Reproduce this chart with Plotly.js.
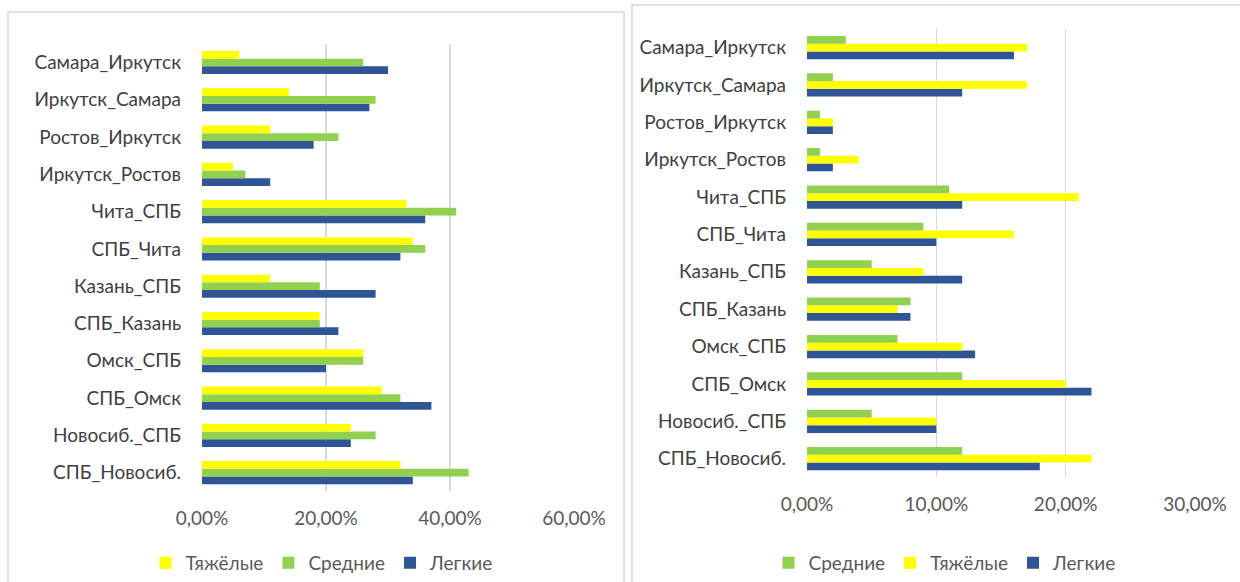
<!DOCTYPE html>
<html>
<head>
<meta charset="utf-8">
<script src="https://cdn.plot.ly/plotly-3.0.1.min.js"></script>
<style>
  html, body { margin: 0; padding: 0; background: #fff; }
  #chart { width: 1240px; height: 582px; }
</style>
</head>
<body>
<div id="chart"></div>
<script>
// categories, listed bottom to top (plotly draws the first one at the bottom)
const routes = [
  'СПБ_Новосиб.', 'Новосиб._СПБ', 'СПБ_Омск', 'Омск_СПБ', 'СПБ_Казань', 'Казань_СПБ',
  'СПБ_Чита', 'Чита_СПБ', 'Иркутск_Ростов', 'Ростов_Иркутск', 'Иркутск_Самара', 'Самара_Иркутск'
]

// left chart, shares
const leftLight  = [0.34, 0.24, 0.37, 0.20, 0.22, 0.28, 0.32, 0.36, 0.11, 0.18, 0.27, 0.30]
const leftMedium = [0.43, 0.28, 0.32, 0.26, 0.19, 0.19, 0.36, 0.41, 0.07, 0.22, 0.28, 0.26]
const leftHeavy  = [0.32, 0.24, 0.29, 0.26, 0.19, 0.11, 0.34, 0.33, 0.05, 0.11, 0.14, 0.06]

// right chart, shares
const rightLight  = [0.18, 0.10, 0.22, 0.13, 0.08, 0.12, 0.10, 0.12, 0.02, 0.02, 0.12, 0.16]
const rightHeavy  = [0.22, 0.10, 0.20, 0.12, 0.07, 0.09, 0.16, 0.21, 0.04, 0.02, 0.17, 0.17]
const rightMedium = [0.12, 0.05, 0.12, 0.07, 0.08, 0.05, 0.09, 0.11, 0.01, 0.01, 0.02, 0.03]

const leftTicks = [0, 0.2, 0.4, 0.6]
const rightTicks = [0, 0.1, 0.2, 0.3]

const BLUE = '#2F5597'
const GREEN = '#92D050'
const YELLOW = '#FFFF00'
const FONT = 'Lato, "Open Sans", sans-serif'

const W = 1240
const H = 582
const px = (x) => x / W
const py = (y) => 1 - y / H

const bar = (name, x, color, xa, ya, legend) => ({
  type: 'bar',
  orientation: 'h',
  name: name,
  y: routes,
  x: x,
  xaxis: xa,
  yaxis: ya,
  legend: legend,
  marker: { color: color },
  hoverinfo: 'x+name',
})

const data = [
  bar('Легкие', leftLight, BLUE, 'x', 'y', 'legend'),
  bar('Средние', leftMedium, GREEN, 'x', 'y', 'legend'),
  bar('Тяжёлые', leftHeavy, YELLOW, 'x', 'y', 'legend'),
  bar('Легкие', rightLight, BLUE, 'x2', 'y2', 'legend2'),
  bar('Тяжёлые', rightHeavy, YELLOW, 'x2', 'y2', 'legend2'),
  bar('Средние', rightMedium, GREEN, 'x2', 'y2', 'legend2'),
]

const xCommon = {
  tickformat: '.2%',
  showgrid: true,
  gridcolor: '#D9D9D9',
  gridwidth: 1.3,
  zeroline: false,
  showline: false,
  ticks: '',
  ticklabelstandoff: 14,
  tickfont: { family: FONT, size: 19, color: '#595959' },
  fixedrange: true,
}
const yCommon = {
  showgrid: false,
  showline: false,
  ticks: '',
  ticklabelstandoff: 20,
  tickfont: { family: FONT, size: 19, color: '#404040' },
  fixedrange: true,
}

const legendCommon = {
  orientation: 'h',
  traceorder: 'reversed',
  xanchor: 'center',
  yanchor: 'middle',
  font: { family: FONT, size: 19, color: '#595959' },
  itemwidth: 30,
  bgcolor: 'rgba(0,0,0,0)',
}

const layout = {
  width: W,
  height: H,
  margin: { t: 0, b: 0, l: 0, r: 0 },
  paper_bgcolor: '#ffffff',
  plot_bgcolor: '#ffffff',
  separators: ', ',
  barmode: 'group',
  bargap: 0.38,
  bargroupgap: 0,
  showlegend: true,
  xaxis: Object.assign({}, xCommon, {
    domain: [px(202), px(574)], range: [0, 0.6], tickvals: leftTicks, anchor: 'y',
  }),
  yaxis: Object.assign({}, yCommon, {
    domain: [py(493), py(44)], anchor: 'x',
  }),
  xaxis2: Object.assign({}, xCommon, {
    domain: [px(807), px(1195)], range: [0, 0.3], tickvals: rightTicks, anchor: 'y2',
  }),
  yaxis2: Object.assign({}, yCommon, {
    domain: [py(479), py(29)], anchor: 'x2',
  }),
  legend: Object.assign({}, legendCommon, { x: px(322), y: py(565) }),
  legend2: Object.assign({}, legendCommon, { x: px(945), y: py(565) }),
  shapes: [
    // chart frames
    { type: 'rect', xref: 'paper', yref: 'paper', x0: px(8), x1: px(624), y0: py(590), y1: py(12),
      line: { color: '#D9D9D9', width: 1.5 } },
    { type: 'rect', xref: 'paper', yref: 'paper', x0: px(632), x1: px(1250), y0: py(590), y1: py(5),
      line: { color: '#D9D9D9', width: 1.5 } },
  ],
}

Plotly.newPlot('chart', data, layout, { responsive: false, displayModeBar: false, staticPlot: true })
</script>
</body>
</html>
